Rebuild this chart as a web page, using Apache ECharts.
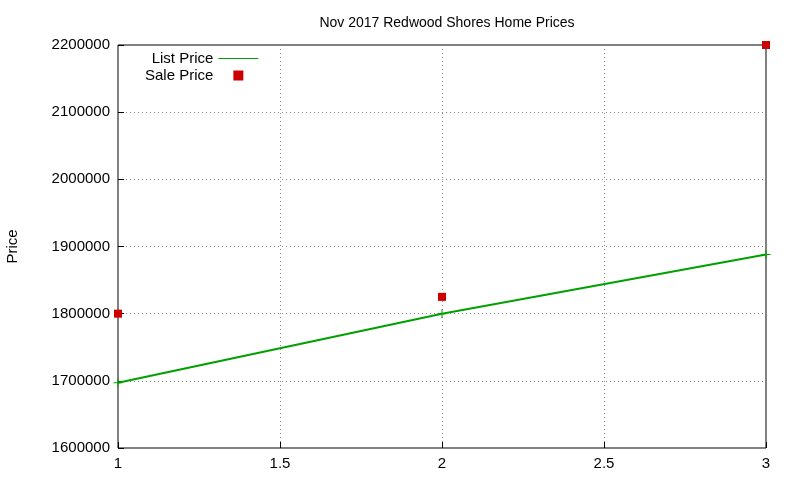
<!DOCTYPE html>
<html><head><meta charset="utf-8">
<script src="https://cdn.jsdelivr.net/npm/echarts@6/dist/echarts.min.js"></script>
<style>html,body{margin:0;padding:0;background:#fff}#c{width:800px;height:480px}</style>
</head><body><div id="c"></div>
<script>
const xValues = [1, 2, 3];
const listPrice = [1697000, 1800000, 1888000];
const salePrice = [1800000, 1825000, 2200000];
const chart = echarts.init(document.getElementById('c'));
const font = 'Liberation Sans, Arial, sans-serif';
chart.setOption({
  animation: false,
  color: ['#00a000', '#cc0000'],
  title: {text: 'Nov 2017 Redwood Shores Home Prices', left: 442, top: 11, textAlign: 'center',
    textStyle: {fontFamily: font, fontSize: 14, fontWeight: 'normal', color: '#000'}},
  grid: {left: 118, right: 34, top: 45, bottom: 32, containLabel: false, outerBoundsMode: 'none',
    show: true, borderColor: '#000', borderWidth: 1},
  legend: {orient: 'vertical', align: 'right', left: 140, top: 46, itemGap: 2, itemWidth: 40, itemHeight: 10,
    textStyle: {fontFamily: font, fontSize: 15, color: '#000'},
    data: [{name: 'List Price', icon: 'path://M0,5L40,5L40,6L0,6Z', itemStyle: {color: '#00a000', opacity: 1}},
           {name: 'Sale Price', icon: 'path://M16,1L24,1L24,9L16,9Z', itemStyle: {color: '#cc0000', opacity: 1}}]},
  xAxis: {type: 'value', min: 1, max: 3, interval: 0.5,
    axisLine: {show: false}, axisTick: {inside: true, length: 6, lineStyle: {color: '#000'}},
    axisLabel: {fontFamily: font, fontSize: 15, color: '#000', margin: 8},
    splitLine: {lineStyle: {type: [1, 3], color: '#888'}}},
  yAxis: {type: 'value', min: 1600000, max: 2200000, interval: 100000, name: 'Price', nameLocation: 'middle', nameGap: 98,
    nameTextStyle: {fontFamily: font, fontSize: 15, color: '#000'},
    axisLine: {show: false}, axisTick: {inside: true, length: 6, lineStyle: {color: '#000'}},
    axisLabel: {fontFamily: font, fontSize: 15, color: '#000', margin: 8, formatter: v => String(v)},
    splitLine: {lineStyle: {type: [1, 3], color: '#888'}}},
  series: [
    {name: 'List Price', type: 'line', data: xValues.map((x, i) => [x, listPrice[i]]),
      symbol: 'path://M4,0L5,0L5,4L9,4L9,5L5,5L5,9L4,9L4,5L0,5L0,4L4,4Z', symbolSize: 9,
      lineStyle: {color: '#00a000', width: 2}, itemStyle: {color: '#00a000'}},
    {name: 'Sale Price', type: 'scatter', data: xValues.map((x, i) => [x, salePrice[i]]),
      symbol: 'rect', symbolSize: 8, itemStyle: {color: '#cc0000', opacity: 1}}
  ]
});
</script></body></html>
